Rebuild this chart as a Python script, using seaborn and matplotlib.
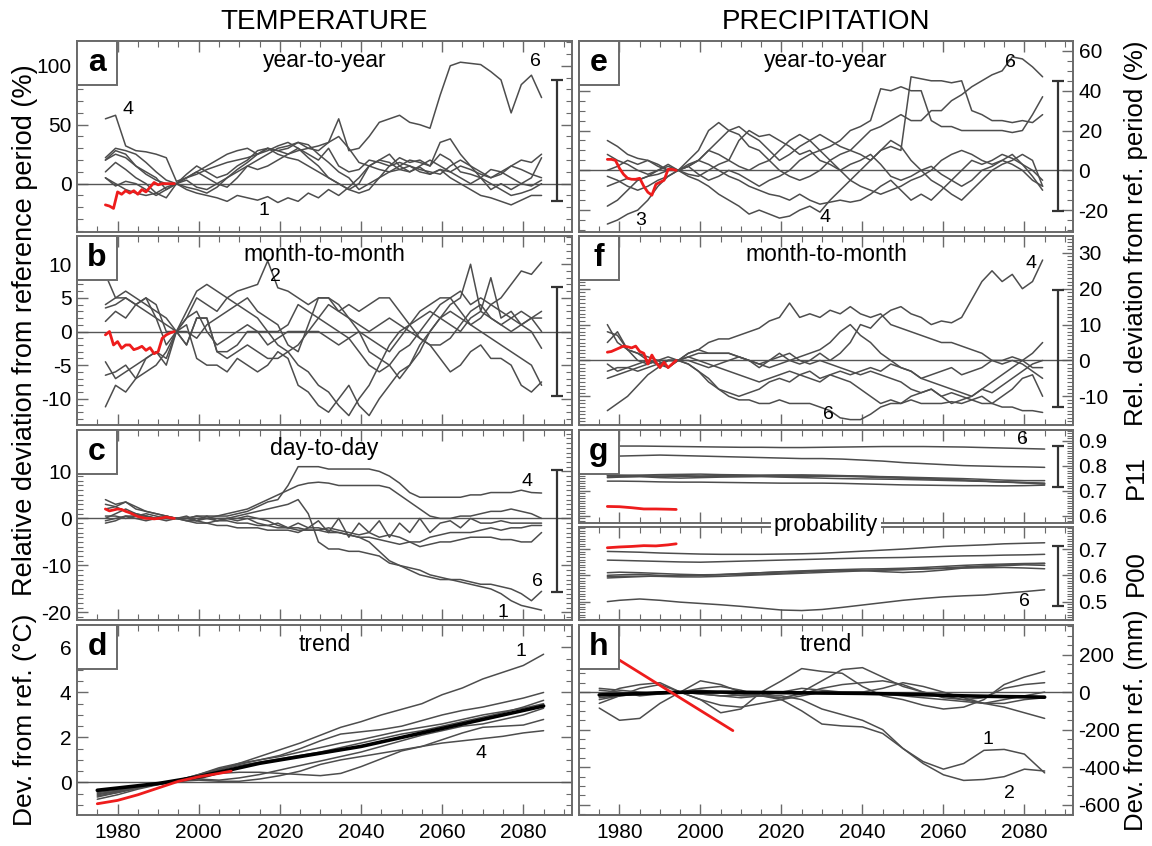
import numpy as np
import pandas as pd
import matplotlib
matplotlib.use("Agg")
import matplotlib.pyplot as plt
import seaborn as sns
from matplotlib.patches import Rectangle
from matplotlib.ticker import MultipleLocator, FormatStrFormatter

# ------------------------------------------------------------------ data
years_fine = 1977 + 2.5 * np.arange(44)          # panels a, b, c, e, f
years_red = np.arange(1977, 1995)                # observed (red) a, b, c, e, f
years_d = np.arange(1975, 2086, 5)               # panels d, h
years_g = np.r_[1977, np.arange(1980, 2086, 5)]  # panel g
years_red_g = [1977, 1980, 1983, 1986, 1989, 1992, 1994]
years_red_d = [1975, 1980, 1985, 1990, 1995, 2000, 2005, 2008]
years_red_h = [1975, 1985, 1995, 2008]

# a: temperature, year-to-year (%)
a1 = [5, 0, -5, -8, -10, -8, -3, 0, -5, -8, -10,
      -12, -15, -10, -12, -14, -11, -16, -12, -15, -8, -12,
      -5, -10, -3, 5, 15, 20, 18, 12, 10, 14, 8,
      12, 5, 0, -5, -10, -12, -15, -18, -14, -10, -10]
a2 = [22, 30, 28, 25, 18, 10, 3, 0, 3, -3, -5,
      0, 5, 12, 18, 25, 30, 28, 30, 35, 33, 25,
      18, 10, 5, -5, 0, 5, 10, 15, 20, 18, 15,
      35, 38, 25, 15, 5, 0, -5, -10, -8, -5, 0]
a3 = [10, 18, 12, 5, 0, -8, -12, 0, 5, 10, 5,
      0, -3, 5, 15, 20, 25, 30, 32, 35, 30, 28,
      35, 40, 30, 18, 15, 12, 10, 12, 15, 10, 8,
      12, 10, 15, 12, 8, 5, 10, 15, 12, 8, 5]
a4 = [55, 58, 32, 28, 27, 25, 22, 2, 5, 10, 15,
      20, 25, 28, 30, 25, 28, 32, 35, 30, 25, 20,
      30, 15, 10, 12, 20, 18, 15, 22, 18, 20, 15,
      25, 20, 10, 8, 5, 12, 10, 5, 0, -2, 3]
a5 = [5, -2, 2, 0, -5, -10, -5, 0, 8, 15, 10,
      5, 8, 15, 20, 28, 30, 25, 22, 20, 15, 10,
      5, 0, -5, -8, -5, 5, 15, 18, 15, 12, 10,
      8, 15, 20, 15, 10, 5, 8, 15, 20, 18, 25]
a6 = [20, 25, 22, 15, 10, 5, -5, 0, 5, 8, 12,
      15, 18, 20, 22, 25, 30, 28, 25, 28, 30, 32,
      35, 55, 28, 30, 40, 52, 55, 58, 52, 50, 47,
      75, 100, 103, 102, 101, 95, 88, 60, 84, 92, 73]
a7 = [20, 28, 25, 15, 8, 3, 0, 0, -3, -5, -8,
      -3, 5, 10, 15, 12, 15, 20, 25, 30, 22, 15,
      5, 0, -5, 0, 15, 20, 25, 15, 10, 15, 20,
      15, 10, 5, 0, 5, -5, 0, -5, 0, 5, 22]
a_red = [-18, -19, -21, -7, -9, -6, -8, -6, -9, -5, -7, -3, 1, -1, 0, 0, 0, 0]

# b: temperature, month-to-month (%)
b1 = [8.5, 5, 6, 5, 4, 3, 2, 0, 3, 6, 7,
      6, 5, 4, 3, 2, 0, -2, -3, -5, -6, -8,
      -9, -11, -12.5, -10, -8, -5, -2, 0, 1, 3, 4,
      5, 5, 3, 1, 2, 4, 5, 7, 9, 8.5, 10.3]
b2 = [4, 5, 5, 4, 5, 2, -2, 0, 2, 5, 4,
      3, 5, 6, 6.5, 7, 10.5, 6.5, 6, 5, 4, 5,
      5, 3, 2, 0, -3, -4, -5, -7, -5, -3, 0,
      2, 4, 5, 10, 3, 8, 2, 3, 1, 0, -2.5]
b3 = [3.5, 4, 5, 4, 5, 4, 0, 0, 0, -1, 1,
      2, 3, 4, 5, 3, 2, 1, -2, -3, 1, 5,
      5, 4, 2, 1, 0, 1, 2, 1, 0, -1, -2,
      -4, -6, -5, -3, -2, -4, -4, -5, -8, -9, -7.5]
b4 = [1.5, 3, 2, 4, 3, 2, 1, 0, -2, 2, 2,
      -3, -3, -2, 0, 0, 0, 0, 1, 4, 3, 2,
      4, 3, 4, 3, 4, 5, 5, 3, 1, -1, -2,
      -2, -1, 1, 3, 4, 2, 1, 2, 3, 2, 2]
b5 = [-6.5, -6, -5, -7, -4, -3, -5, 0, 1, -4, -5,
      -5, -6, -4, -5, -6, -5, -3, -4, -8, -9, -11,
      -12, -10, -8, -11, -12.5, -10, -8, -6, -5, -2, 0,
      2, 3, 2, 1, 0, -1, -2, -3, -4, -5, -8]
b6 = [-11.2, -8, -9, -7, -6, -5, -3, 0, 2, 3, 0,
      -2, -1, 0, 1, 0, -2, -1, 0, 0, 0, 0,
      -1, -2, -1, 0, -1, -2, -3, -1, 1, 2, 3,
      2, 1, 0, 2, 3, 2, 1, 0, 1, 2, 3]
b7 = [-4.5, -7, -6, -5, -4, -3, -4, 0, -2, 2, 2,
      -3, -4, -3, -2, -3, -4, -4, -3, -2, 0, 2,
      1, 0, -1, -3, -5, -6, -5, -3, -2, 0, 2,
      4, 5, 6, 4, 5, 4, 3, 2, 1, 2, 0]
b_red = [-0.5, 0, -2, -1.5, -2.5, -2, -2, -2.7, -2.5, -2.2, -2.8, -2.4,
         -3.3, -3, -1, -0.5, -0.2, 0]

# c: temperature, day-to-day (%)
c1 = [0, 1, 2, 1, 0.5, 0, 0, 0, -0.5, -0.5, 0,
      -0.5, 0, 0.5, 1, 1.5, 2, 2.5, 3, 4, 1, -5,
      -6.5, -6.5, -7, -7, -7.5, -8, -9.5, -10, -11, -12, -12.5,
      -13, -13, -13.5, -14, -14.5, -15, -16, -17.5, -18.5, -19, -19.5]
c2 = [0.5, 0.5, 0, 0.5, 1, 0.5, 0, 0, 0, 0.5, 0.5,
      0.5, 1, 1.5, 2, 3, 4, 5, 6, 7, 7.5, 7.7,
      7.5, 7, 7, 7, 7, 7, 6.5, 5, 3.5, 2, 0.5,
      0, 0, 0.5, 0.5, 1, 1.5, 1.5, 2, 1.5, 1, 0]
c3 = [-1, -0.5, 0.5, 0, -0.5, 0, 0.5, 0, 0.5, -0.5, 0.5,
      -0.5, 0, -0.5, 0, -1, -1.5, -1, -2, -1, -2, -0.5,
      -3, 0, -4, -1, -3, -0.5, -4, -1, -3, 0, -3,
      -1, -0.5, -2, 0, -1, -1, -0.5, -1, -1, -1, -1]
c4 = [4, 3, 3.5, 2, 1.5, 1, 0.5, 0, 0, 0.5, 0,
      0.5, 0.5, 1, 1.5, 2.5, 3.5, 4, 7, 11, 11, 11,
      10.5, 10.5, 10.5, 10.5, 10.5, 10, 9, 7.5, 5.5, 4.5, 4.5,
      4.5, 4.5, 4.5, 5, 5, 5.5, 5.5, 5.5, 6, 5.5, 5.4]
c5 = [-0.5, 0, 0.5, 0.5, 0.5, 0, 0, 0, -0.5, -1, -1,
      -1.5, -1.5, -2, -2, -2, -2.5, -2.5, -2.5, -3, -2, -2,
      -2.5, -3, -3.5, -4, -4, -4.5, -5, -5.5, -5, -6, -5.5,
      -5, -5, -4.5, -4, -4, -4, -4.5, -4.5, -5, -5, -3]
c6 = [3, 2.5, 1.5, 1, 0.5, 0, -0.5, 0, 0, -0.5, -1,
      -0.5, -0.5, -1, -1, -1.5, -1.5, -2, -2, -2.5, -2.5, -2.5,
      -3, -3, -3.5, -4, -5, -7, -9, -10, -10.5, -11, -12,
      -12.5, -13, -13, -13.5, -14, -14, -14.5, -15, -16, -17.5, -15.5]
c7 = [2, 2.5, 3.5, 2.5, 1.5, 1, 0.5, 0, 0, 0, 0,
      0, 0, 0, 0.5, 0, -0.5, -1.5, -2, -2, -2.5, -2.5,
      -2, -2.5, -3, -3.5, -3, -4, -3.5, -4, -5, -5, -4,
      -3.5, -3, -3, -3, -2.5, -2, -2.5, -2, -2, -1.5, -1.5]
c_red = [2, 1.6, 1.8, 2, 1.9, 1.5, 1.2, 0.8, 0.4, 0.2, 0, 0, -0.1, 0, 0.1, 0.3, 0.1, 0]

# d: temperature trend (deg C)
d1 = [-0.6, -0.45, -0.25, -0.08, 0.05, 0.3, 0.55, 0.85, 1.15, 1.45, 1.75, 2.1,
      2.45, 2.7, 3.0, 3.25, 3.5, 3.9, 4.2, 4.6, 4.9, 5.2, 5.7]
d2 = [-0.5, -0.4, -0.2, -0.05, 0.1, 0.35, 0.6, 0.8, 1.0, 1.2, 1.5, 1.85,
      2.15, 2.25, 2.35, 2.5, 2.75, 3.0, 3.2, 3.35, 3.55, 3.75, 4.0]
d3 = [-0.55, -0.4, -0.2, -0.05, 0.1, 0.3, 0.55, 0.75, 0.9, 1.05, 1.2, 1.35,
      1.55, 1.75, 1.95, 2.15, 2.3, 2.5, 2.7, 2.9, 3.1, 3.35, 3.65]
d4 = [-0.65, -0.45, -0.25, -0.08, 0.05, 0.1, 0.05, 0.05, 0.15, 0.3, 0.5, 0.8,
      1.0, 1.15, 1.3, 1.45, 1.6, 1.75, 1.85, 1.95, 2.05, 2.2, 2.3]
d5 = [-0.45, -0.35, -0.2, -0.05, 0.05, 0.15, 0.4, 0.45, 0.45, 0.4, 0.35, 0.3,
      0.4, 0.7, 1.05, 1.4, 1.6, 1.9, 2.2, 2.45, 2.5, 2.55, 2.8]
d6 = [-0.75, -0.55, -0.3, -0.1, 0.05, 0.15, 0.1, 0.2, 0.35, 0.55, 0.75, 0.95,
      1.15, 1.35, 1.6, 1.85, 2.1, 2.3, 2.5, 2.6, 2.8, 3.0, 3.3]
d7 = [-0.4, -0.3, -0.15, -0.05, 0.1, 0.35, 0.65, 0.85, 1.0, 1.15, 1.35, 1.55,
      1.75, 1.9, 2.1, 2.3, 2.45, 2.6, 2.8, 3.0, 3.15, 3.3, 3.5]
d_mean = [-0.35, -0.25, -0.15, -0.05, 0.1, 0.25, 0.45, 0.65, 0.85, 1.0, 1.15, 1.3,
          1.45, 1.6, 1.8, 2.0, 2.2, 2.4, 2.6, 2.8, 3.0, 3.2, 3.4]
d_red = [-0.95, -0.8, -0.55, -0.25, 0.05, 0.25, 0.4, 0.5]

# e: precipitation, year-to-year (%)
e1 = [15, 12, 8, 6, 5, 3, 0, 0, 2, 5, 10,
      15, 20, 22, 18, 15, 10, 5, 8, 12, 15, 18,
      15, 12, 10, 8, 5, 10, 12, 10, 47, 46, 45,
      45, 44, 45, 30, 28, 25, 25, 24, 25, 24, 28]
e2 = [8, 5, 3, 0, -2, 0, 3, 0, 2, -2, -5,
      -3, 0, -2, -5, -8, -5, -3, 0, 5, 8, 10,
      12, 15, 20, 22, 25, 41, 40, 42, 40, 40, 25,
      22, 22, 20, 20, 20, 20, 20, 19, 20, 28, 37]
e3 = [-27, -25, -22, -20, -15, -8, -3, 0, 2, 5, 10,
      8, 5, 15, 20, 17, 18, 15, 12, 8, 10, 5,
      3, 0, -5, -8, -10, -12, -10, -8, -5, -3, 0,
      5, 8, 10, 8, 5, 3, 5, 8, 3, 0, -5]
e4 = [-3, -5, -8, -10, -8, -5, -3, 0, -3, -5, -8,
      -12, -15, -18, -22, -20, -22, -24, -23, -20, -18, -21,
      -15, -10, -5, 0, 5, 10, 15, 12, 5, 0, -5,
      -8, -12, -15, -10, -5, 0, 3, 5, 8, 5, -8]
e5 = [-8, -6, -4, -5, -3, -2, 0, 0, 5, 10, 20,
      24, 20, 18, 12, 10, 5, 0, -3, -5, -3, 0,
      5, 8, 10, 15, 20, 22, 25, 28, 25, 25, 30,
      30, 35, 38, 42, 45, 48, 50, 57, 56, 52, 47]
e6 = [0, 2, 5, 3, 5, 2, 0, 0, 3, 5, 3,
      0, -3, -5, -8, -10, -12, -13, -15, -12, -15, -17,
      -16, -15, -16, -15, -12, -8, -5, -10, -15, -12, -15,
      -10, -5, 0, 5, 3, 5, 8, 6, 3, -3, -10]
e7 = [-18, -15, -10, -5, -3, 0, 2, 0, -2, -3, 0,
      3, 5, 2, 0, 3, 5, 10, 15, 18, 15, 10,
      5, 0, 3, 5, 8, 3, -3, -5, -3, 0, 2,
      -2, -5, -8, -5, 0, 2, 5, 3, 0, -5, -8]
e_red = [5.5, 5.5, 5, 1, -2, -4, -4.5, -4.5, -4, -8, -11, -12.5, -7, -6, -5, 0.5, 0.5, 0]

# f: precipitation, month-to-month (%)
f1 = [10, 5, 3, 0, -1, 0, -2, 0, 2, 3, 2,
      2, 2, 1, 0, -2, 0, 2, 0, -1, 0, 2,
      0, 2, 5, 10, 9, 12, 14, 15, 13, 12, 10,
      11, 10.5, 12, 17, 22, 25, 22, 24, 20, 22, 28]
f2 = [8, 7, 3, 2, 1, 0, 1, 0, 2, 3, 5,
      6, 6, 7, 8, 9, 11, 12, 16, 12, 13, 12,
      14, 13, 15, 13, 12, 13, 10, 9, 8, 7, 6,
      5, 5, 4, 3, 2, 0, -1, 0, -1, -3, -5]
f3 = [-5, -4, -3, -2, -1, 0, 0, 0, -1, -3, -6,
      -8, -10, -11, -11, -12, -12, -11, -12, -12, -12, -13,
      -14, -16, -16.5, -16.5, -15, -13, -12, -12, -11, -12, -12,
      -12, -11.5, -12, -11, -10, -12, -13, -13, -14, -14, -14.5]
f4 = [-14, -12, -10, -7, -4, -2, 0, 0, 1, 2, 2,
      2, 2, 1, 0, -1, -2, -1, 0, 1, 2, 3,
      5, 8, 10, 7, 5, 2, 0, -2, -3, -5, -6,
      -7, -8, -9, -10, -8, -6, -4, -2, 0, 2, 5]
f5 = [-1, -3, -2, -1, 0, -1, -2, 0, 1, 0, -1,
      -2, -3, -4, -5, -6, -5, -4, -3, -4, -5, -6,
      -4, -5, -6, -8, -10, -12, -11, -12, -10, -9, -8,
      -10, -12, -11, -10, -8, -9, -7, -5, -3, -1, 0]
f6 = [-3, -2, -2, -3, -2, -1, 0, 0, 0, -1, -2,
      -1, 0, 1, 0, -1, 0, 1, 2, 0, -1, 0,
      -1, -2, -3, -4, -3, -4, -5, -6, -8, -9, -8,
      -10, -9, -10, -11, -12, -12, -10, -8, -5, -4, -10]
f7 = [5, 8, 3, 2, 0, -1, 0, 0, -1, -3, -5,
      -8, -9, -10, -9, -8, -6, -5, -6, -4, -3, -5,
      -4, -3, -4, -3, -2, -3, -1, -2, -3, -5, -4,
      -3, -2, -4, -3, -2, 0, 0, 1, 0, -2, -2]
f_red = [2.3, 2.5, 3, 3.5, 4, 3.8, 3.5, 4, 2.5, 2, -1, 1.5, -0.5, -2, -0.5, -2, -1, 0]

# g: precipitation, transition probabilities
p11_1 = [.878, .878, .878, .877, .876, .875, .874, .873, .873, .872, .872, .873,
         .874, .875, .876, .876, .876, .875, .874, .872, .870, .868, .866]
p11_2 = [.838, .838, .840, .842, .840, .838, .836, .834, .832, .830, .828, .828,
         .826, .822, .818, .812, .808, .804, .800, .798, .796, .795, .793]
p11_3 = [.760, .760, .762, .764, .765, .766, .764, .763, .762, .762, .760, .758,
         .758, .757, .756, .754, .752, .750, .748, .745, .742, .740, .740]
p11_4 = [.755, .756, .757, .758, .760, .758, .757, .758, .760, .762, .763, .762,
         .760, .758, .755, .752, .748, .745, .742, .738, .735, .732, .728]
p11_5 = [.762, .762, .760, .758, .757, .758, .760, .760, .758, .757, .757, .758,
         .757, .755, .752, .750, .748, .746, .742, .738, .735, .732, .730]
p11_6 = [.752, .754, .756, .752, .750, .752, .754, .755, .756, .754, .752, .750,
         .748, .747, .746, .745, .743, .741, .739, .737, .734, .731, .726]
p11_7 = [.738, .738, .737, .735, .734, .734, .733, .732, .731, .730, .730, .730,
         .729, .727, .725, .723, .722, .721, .720, .720, .719, .720, .722]
p11_red = [.637, .636, .632, .627, .627, .626, .625]

p00_1 = [.691, .690, .688, .685, .683, .681, .680, .680, .680, .681, .682, .684,
         .688, .692, .696, .700, .705, .710, .713, .716, .720, .722, .724]
p00_2 = [.658, .657, .655, .653, .651, .650, .652, .654, .656, .658, .660, .662,
         .664, .666, .667, .668, .670, .672, .674, .675, .677, .678, .680]
p00_3 = [.610, .612, .610, .607, .604, .602, .603, .606, .610, .614, .617, .620,
         .622, .624, .625, .627, .630, .634, .638, .641, .643, .645, .646]
p00_4 = [.600, .602, .604, .600, .598, .600, .603, .607, .610, .613, .615, .617,
         .618, .619, .620, .622, .625, .628, .632, .636, .640, .643, .645]
p00_5 = [.590, .592, .595, .598, .600, .601, .602, .603, .605, .608, .612, .616,
         .620, .618, .614, .611, .614, .620, .628, .633, .637, .640, .638]
p00_6 = [.500, .505, .510, .505, .498, .493, .488, .482, .475, .468, .466, .470,
         .478, .487, .496, .505, .512, .518, .522, .525, .532, .538, .545]
p00_7 = [.595, .596, .597, .596, .594, .594, .596, .599, .602, .605, .608, .611,
         .614, .617, .620, .622, .624, .626, .628, .629, .630, .628, .625]
p00_red = [.705, .708, .710, .713, .712, .716, .720]

# h: precipitation trend (mm)
h1 = [-30, -20, -10, 0, 0, -10, -20, -15, -10, -40, -100, -170,
      -180, -185, -220, -300, -370, -410, -380, -310, -305, -330, -430]
h2 = [20, 10, 0, -10, 0, 10, 0, -20, -20, -20, -40, -90,
      -120, -150, -200, -300, -380, -440, -470, -465, -450, -410, -420]
h3 = [-60, -20, 20, 40, 0, -40, -110, -90, 0, 60, 125, 110,
      100, 30, -20, -40, -70, -90, -80, -40, 40, 80, 110]
h4 = [-20, 20, 40, 50, 0, -40, -70, -80, -60, -40, 0, 60,
      120, 130, 80, 30, 0, -20, -40, -60, -80, -110, -140]
h5 = [-85, -150, -140, -60, 0, 60, 40, 0, -20, -30, -10, 20,
      40, 50, 60, 40, 0, -30, -40, -30, 20, 40, 50]
h6 = [10, 0, -20, -10, 0, 20, 30, 10, -20, -40, -20, 0,
      0, 0, 20, 50, 30, 0, -30, -60, -60, -40, -30]
h7 = [-40, -20, -10, 0, 0, -10, -20, -30, -20, 0, 20, 10,
      0, 0, -10, -20, -30, -40, -50, -60, -40, -20, 0]
h_mean = [-15, -12, -8, -4, -1, 0, 0, -1, -2, -3, -4, -5,
          -6, -7, -9, -11, -14, -17, -20, -22, -24, -25, -27]
h_red = [237, 103, -31, -205]

# spread bars (low, high)
bar_a = (-15, 88)
bar_b = (-9.6, 6.6)
bar_c = (-15.7, 10.2)
bar_e = (-20.5, 45)
bar_f = (-13, 19.6)
bar_p11 = (0.716, 0.879)
bar_p00 = (0.485, 0.712)

# ------------------------------------------------------------------ style
sns.set_theme(style="ticks")
plt.rcParams["font.family"] = ["Liberation Sans", "DejaVu Sans"]
plt.rcParams["axes.unicode_minus"] = False
plt.rcParams["text.color"] = "black"

GRAY = "#4d4d4d"
SPINE = "#6a6a6a"
RED = "#ee1c1c"
W, H = 1152, 846

fig = plt.figure(figsize=(W / 100, H / 100), dpi=100)


def make_ax(x0, x1, y0, y1):
    return fig.add_axes([x0 / W, 1 - y1 / H, (x1 - x0) / W, (y1 - y0) / H])


def models(ax, x, series, color=GRAY, lw=1.1):
    df = pd.DataFrame({
        "year": np.tile(np.asarray(x, float), len(series)),
        "value": np.concatenate([np.asarray(s, float) for s in series]),
        "model": np.repeat(np.arange(len(series)), len(x)),
    })
    sns.lineplot(data=df, x="year", y="value", units="model", estimator=None,
                 color=color, lw=lw, ax=ax, legend=False, zorder=3)


def single(ax, x, y, color, lw):
    sns.lineplot(x=np.asarray(x, float), y=np.asarray(y, float), estimator=None,
                 color=color, lw=lw, ax=ax, zorder=4)


def style(ax, ylim, major, minor, side, xlabels=False, fmt=None, zero=True):
    ax.set_xlim(1970, 2092)
    ax.set_ylim(*ylim)
    ax.xaxis.set_major_locator(MultipleLocator(20))
    ax.xaxis.set_minor_locator(MultipleLocator(5))
    ax.yaxis.set_major_locator(MultipleLocator(major))
    ax.yaxis.set_minor_locator(MultipleLocator(minor))
    if fmt:
        ax.yaxis.set_major_formatter(FormatStrFormatter(fmt))
    ax.tick_params(which="both", direction="in", top=True, bottom=True,
                   left=True, right=True, color=SPINE, labelsize=15,
                   labelcolor="black")
    ax.tick_params(which="major", length=8, width=1.0, pad=4)
    ax.tick_params(which="minor", length=4, width=0.8)
    ax.tick_params(axis="x", labelbottom=xlabels, labelsize=15, pad=6)
    if side == "left":
        ax.tick_params(axis="y", labelleft=True, labelright=False)
    else:
        ax.tick_params(axis="y", labelleft=False, labelright=True)
    for s in ax.spines.values():
        s.set_color(SPINE)
        s.set_linewidth(1.4)
    ax.set_xlabel("")
    ax.set_ylabel("")
    if zero:
        ax.axhline(0, color="#555555", lw=1.0, zorder=2)


def panel_box(ax, letter):
    bb = ax.get_position()
    wpx, hpx = bb.width * W, bb.height * H
    bw, bh = 40 / wpx, 44 / hpx
    ax.add_patch(Rectangle((0, 1 - bh), bw, bh, transform=ax.transAxes,
                           fc="white", ec=SPINE, lw=1.4, zorder=6, clip_on=False))
    ax.text(bw / 2, 1 - bh / 2, letter, transform=ax.transAxes, ha="center",
            va="center", fontsize=23, fontweight="bold", zorder=7)


def subtitle(ax, s):
    ax.text(0.5, 0.9, s, transform=ax.transAxes, ha="center", va="center",
            fontsize=16.5, zorder=7)


def spread(ax, lo_hi):
    lo, hi = lo_hi
    ax.errorbar([2088.3], [(lo + hi) / 2], yerr=[[(hi - lo) / 2], [(hi - lo) / 2]],
                fmt="none", ecolor="#333333", elinewidth=1.6, capsize=4,
                capthick=1.6, zorder=5)


def num(ax, x, y, s):
    ax.text(x, y, s, ha="center", va="center", fontsize=14, zorder=7)


LX0, LX1 = 77, 572
RX0, RX1 = 579, 1073
rows = [(41, 232), (236, 425), (430, 620), (625, 815)]

# ---------------------------------------------------------------- left column
ax_a = make_ax(LX0, LX1, *rows[0])
models(ax_a, years_fine, [a1, a2, a3, a4, a5, a6, a7])
single(ax_a, years_red, a_red, RED, 2.0)
style(ax_a, (-41, 121), 50, 10, "left")
panel_box(ax_a, "a"); subtitle(ax_a, "year-to-year"); spread(ax_a, bar_a)
num(ax_a, 1982.5, 63, "4"); num(ax_a, 2083, 104, "6"); num(ax_a, 2016, -23, "1")

ax_b = make_ax(LX0, LX1, *rows[1])
models(ax_b, years_fine, [b1, b2, b3, b4, b5, b6, b7])
single(ax_b, years_red, b_red, RED, 2.0)
style(ax_b, (-13.9, 14.2), 5, 1, "left")
panel_box(ax_b, "b"); subtitle(ax_b, "month-to-month"); spread(ax_b, bar_b)
num(ax_b, 2018.8, 8.2, "2")

ax_c = make_ax(LX0, LX1, *rows[2])
models(ax_c, years_fine, [c1, c2, c3, c4, c5, c6, c7])
single(ax_c, years_red, c_red, RED, 2.0)
style(ax_c, (-21.6, 18.8), 10, 1, "left")
panel_box(ax_c, "c"); subtitle(ax_c, "day-to-day"); spread(ax_c, bar_c)
num(ax_c, 2081, 7.8, "4"); num(ax_c, 2083.6, -13.4, "6"); num(ax_c, 2075, -20, "1")

ax_d = make_ax(LX0, LX1, *rows[3])
models(ax_d, years_d, [d1, d2, d3, d4, d5, d6, d7])
single(ax_d, years_d, d_mean, "black", 2.6)
single(ax_d, years_red_d, d_red, RED, 2.0)
style(ax_d, (-1.45, 7.0), 2, 0.5, "left", xlabels=True)
panel_box(ax_d, "d"); subtitle(ax_d, "trend")
num(ax_d, 2079.5, 5.8, "1"); num(ax_d, 2069.5, 1.3, "4")

# --------------------------------------------------------------- right column
ax_e = make_ax(RX0, RX1, *rows[0])
models(ax_e, years_fine, [e1, e2, e3, e4, e5, e6, e7])
single(ax_e, years_red, e_red, RED, 2.0)
style(ax_e, (-31, 65), 20, 5, "right")
panel_box(ax_e, "e"); subtitle(ax_e, "year-to-year"); spread(ax_e, bar_e)
num(ax_e, 1985.3, -25, "3"); num(ax_e, 2030.7, -23.5, "4"); num(ax_e, 2076.6, 54, "6")

ax_f = make_ax(RX0, RX1, *rows[1])
models(ax_f, years_fine, [f1, f2, f3, f4, f5, f6, f7])
single(ax_f, years_red, f_red, RED, 2.0)
style(ax_f, (-18, 34.7), 10, 1, "right")
panel_box(ax_f, "f"); subtitle(ax_f, "month-to-month"); spread(ax_f, bar_f)
num(ax_f, 2081.7, 27, "4"); num(ax_f, 2031.7, -15, "6")

ax_g1 = make_ax(RX0, RX1, 430, 523)
models(ax_g1, years_g, [p11_1, p11_2, p11_3, p11_4, p11_5, p11_6, p11_7])
single(ax_g1, years_red_g, p11_red, RED, 2.0)
style(ax_g1, (0.571, 0.942), 0.1, 0.01, "right", fmt="%.1f", zero=False)
panel_box(ax_g1, "g"); spread(ax_g1, bar_p11)
num(ax_g1, 2079.5, 0.905, "6")

ax_g2 = make_ax(RX0, RX1, 527, 620)
models(ax_g2, years_g, [p00_1, p00_2, p00_3, p00_4, p00_5, p00_6, p00_7])
single(ax_g2, years_red_g, p00_red, RED, 2.0)
style(ax_g2, (0.43, 0.784), 0.1, 0.01, "right", fmt="%.1f", zero=False)
spread(ax_g2, bar_p00)
num(ax_g2, 2080, 0.5, "6")
fig.text((RX0 + RX1) / 2 / W, 1 - 525 / H, "probability", ha="center", va="center",
         fontsize=16.5, bbox=dict(fc="white", ec="none", pad=2))

ax_h = make_ax(RX0, RX1, *rows[3])
models(ax_h, years_d, [h1, h2, h3, h4, h5, h6, h7])
single(ax_h, years_d, h_mean, "black", 2.6)
single(ax_h, years_red_h, h_red, RED, 2.0)
style(ax_h, (-654, 357), 200, 50, "right", xlabels=True)
panel_box(ax_h, "h"); subtitle(ax_h, "trend")
num(ax_h, 2071, -250, "1"); num(ax_h, 2076.4, -540, "2")

# ---------------------------------------------------------------- titles/labels
fig.text((LX0 + LX1) / 2 / W, 1 - 22 / H, "TEMPERATURE", ha="center", va="center", fontsize=20)
fig.text((RX0 + RX1) / 2 / W, 1 - 22 / H, "PRECIPITATION", ha="center", va="center", fontsize=20)
fig.text(25 / W, 1 - 330 / H, "Relative deviation from reference period (%)",
         rotation=90, ha="center", va="center", fontsize=19.5)
fig.text(25 / W, 1 - 720 / H, "Dev. from ref. (\u00b0C)",
         rotation=90, ha="center", va="center", fontsize=19)
fig.text(1136 / W, 1 - 233 / H, "Rel. deviation from ref. period (%)",
         rotation=90, ha="center", va="center", fontsize=18.5)
fig.text(1136 / W, 1 - 477 / H, "P11", rotation=90, ha="center", va="center", fontsize=18.5)
fig.text(1136 / W, 1 - 573 / H, "P00", rotation=90, ha="center", va="center", fontsize=18.5)
fig.text(1136 / W, 1 - 720 / H, "Dev. from ref. (mm)",
         rotation=90, ha="center", va="center", fontsize=18.5)

fig.savefig("out.png", dpi=100, facecolor="white")
